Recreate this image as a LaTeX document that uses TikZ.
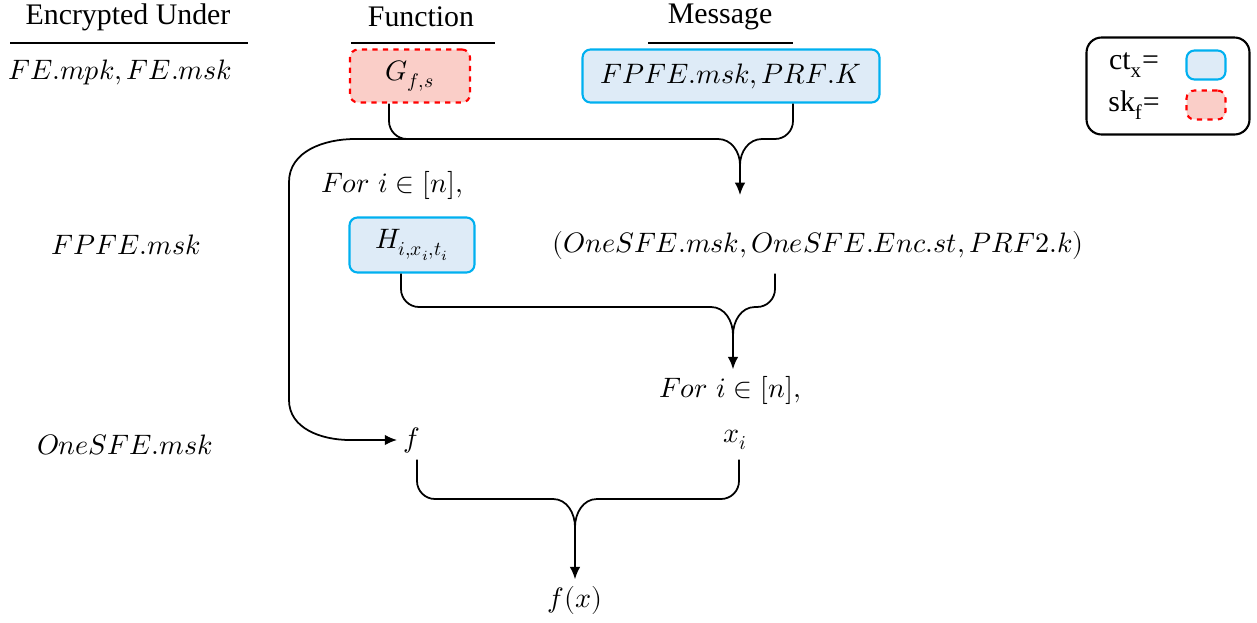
\documentclass[tikz,border=0pt]{standalone}
\usepackage{fontspec}
\usepackage{unicode-math}
\setmathfont{Latin Modern Math}
\newfontfamily\hdrfont{Liberation Serif}
\usepackage{tikz}
\usetikzlibrary{arrows.meta}
\usetikzlibrary{calc}
\definecolor{ctfill}{RGB}{222,235,247}
\definecolor{ctline}{RGB}{0,176,240}
\definecolor{skfill}{RGB}{250,206,200}
\definecolor{skline}{RGB}{255,0,0}

\begin{document}
\begin{tikzpicture}[x=0.02cm, y=-0.02cm, >={Latex[length=7pt,width=6pt]}, line width=1pt]
  \tikzset{hdr/.style={font=\hdrfont\fontsize{17}{20}\selectfont},
           mth/.style={font=\fontsize{16}{19}\selectfont},
           ctbox/.style={draw=ctline, fill=ctfill, rounded corners=0.16cm, line width=1.2pt, font=\fontsize{16}{19}\selectfont},
           skbox/.style={draw=skline, fill=skfill, dashed, rounded corners=0.16cm, line width=1.2pt, font=\fontsize{16}{19}\selectfont}}
  \useasboundingbox (0,0) rectangle (1257,622);

  % column headers
  \node[hdr] (hEnc) at (128,17) {Encrypted Under};
  \node[hdr] (hFun) at (421,17) {Function};
  \node[hdr] (hMsg) at (720,17) {Message};
  \draw (10,43) -- (248,43);
  \draw (351,43) -- (495,43);
  \draw (648,43) -- (793,43);

  % legend
  \node[draw, rounded corners=0.3cm, line width=1.2pt, minimum width=3.26cm, minimum height=1.94cm] (leg) at (1168,86) {};
  \node[hdr] (ctlbl) at (1134,65) {ct\textsubscript{x}=};
  \node[ctbox, minimum width=0.78cm, minimum height=0.58cm] (ctkey) at (1206,65) {};
  \node[hdr] (sklbl) at (1134,105) {sk\textsubscript{f}=};
  \node[skbox, minimum width=0.78cm, minimum height=0.58cm] (skkey) at (1206,105) {};

  % first level
  \node[mth] (lvl1) at (120,72) {$FE.mpk, FE.msk$};
  \node[skbox, minimum width=2.4cm, minimum height=1.06cm] (G) at (410,76) {$G_{f,s}$};
  \node[ctbox, minimum width=5.94cm, minimum height=1.06cm] (msg) at (731,76) {$FPFE.msk, PRF.K$};

  % second level
  \node[mth] (lvl2) at (126,245) {$FPFE.msk$};
  \node[mth] (for1) at (392,185) {$For\ i \in [n],$};
  \node[ctbox, minimum width=2.5cm, minimum height=1.1cm] (H) at (412,245) {$H_{i,x_i,t_i}$};
  \node[mth] (st) at (818,245) {$(OneSFE.msk, OneSFE.Enc.st, PRF2.k)$};

  % third level
  \node[mth] (for2) at (730,390) {$For\ i \in [n],$};
  \node[mth] (lvl3) at (125,445) {$OneSFE.msk$};
  \node[mth] (f) at (412,440) {$f$};
  \node[mth] (xi) at (735,440) {$x_i$};
  \node[mth] (fx) at (575,600) {$f(x)$};

  % brace from G and msg
  \coordinate (m1) at (740,165);
  \coordinate (gArm) at ($(G.south)+(-21,0)$);
  \coordinate (kArm) at ($(msg.south)+(62,0)$);
  \draw (gArm) -- ($(gArm |- m1)+(0,-44)$) to[out=-90,in=180] ($(gArm |- m1)+(18,-26)$) -- ($(m1)+(-22,-26)$) to[out=0,in=90] (m1);
  \draw[->] (kArm) -- ($(kArm |- m1)+(0,-44)$) to[out=-90,in=0] ($(kArm |- m1)+(-18,-26)$) -- ($(m1)+(22,-26)$) to[out=180,in=90] (m1) -- ++(0,30);

  % f goes down to the last level
  \draw[->] (428,139) -- (355,139) to[out=180,in=90] (289,182) -- (289,400) to[out=-90,in=180] (350,440) -- (f.west);

  % brace from H and st
  \coordinate (m2) at (733,335);
  \coordinate (hArm) at ($(H.south)+(-11,0)$);
  \coordinate (sArm) at ($(st.south |- H.south)+(-43,0)$);
  \draw (hArm) -- ($(hArm |- m2)+(0,-46)$) to[out=-90,in=180] ($(hArm |- m2)+(18,-28)$) -- ($(m2)+(-22,-28)$) to[out=0,in=90] (m2);
  \draw[->] (sArm) -- ($(sArm |- m2)+(0,-46)$) to[out=-90,in=0] ($(sArm |- m2)+(-18,-28)$) -- ($(m2)+(22,-28)$) to[out=180,in=90] (m2) -- (m2 |- for2.north);

  % brace from f and x_i
  \coordinate (m3) at (575,527);
  \coordinate (fArm) at ($(f.south)+(5,0)$);
  \coordinate (xArm) at ($(xi.south |- f.south)+(4,0)$);
  \draw (fArm) -- ($(fArm |- m3)+(0,-46)$) to[out=-90,in=180] ($(fArm |- m3)+(18,-28)$) -- ($(m3)+(-22,-28)$) to[out=0,in=90] (m3);
  \draw[->] (xArm) -- ($(xArm |- m3)+(0,-46)$) to[out=-90,in=0] ($(xArm |- m3)+(-18,-28)$) -- ($(m3)+(22,-28)$) to[out=180,in=90] (m3) -- (fx.north);
\end{tikzpicture}
\end{document}
